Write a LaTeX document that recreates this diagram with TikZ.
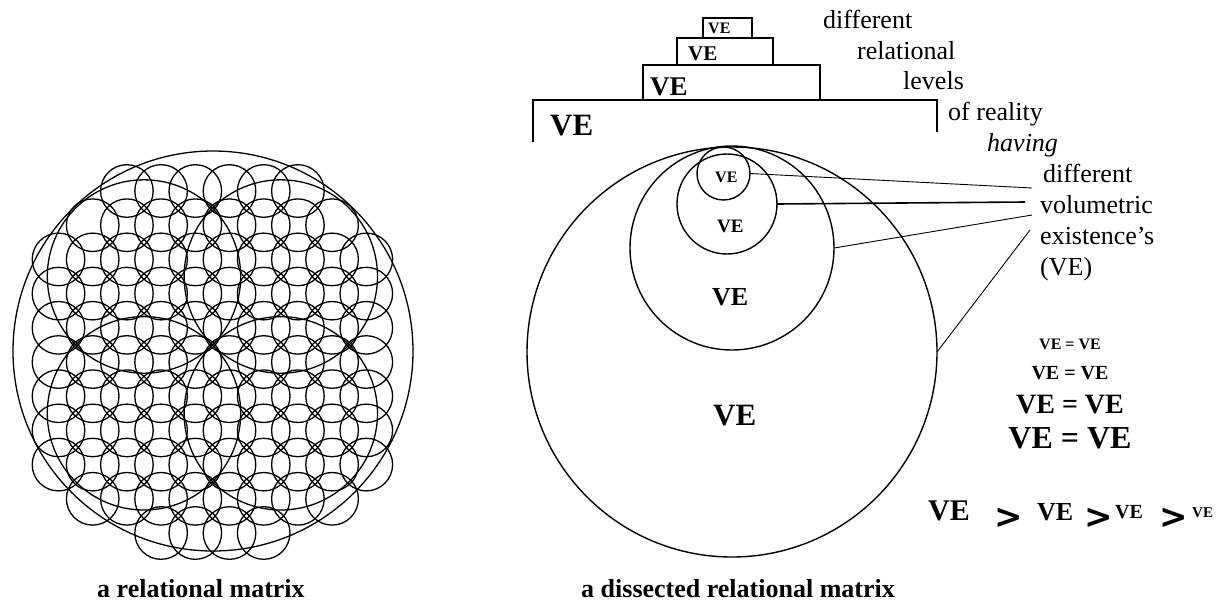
\documentclass[tikz,border=0pt]{standalone}
\usepackage{fontspec}
\setmainfont{Liberation Serif}
\newfontfamily\heavyfont{DejaVu Sans}
\usetikzlibrary{positioning, calc}
\newcommand{\vemark}[1]{{\fontsize{#1}{#1}\selectfont\bfseries VE}}
\newcommand{\vesame}[1]{{\fontsize{#1}{#1}\selectfont\bfseries VE = VE}}
\newcommand{\gtmark}{{\heavyfont\fontsize{34}{34}\selectfont\bfseries >}}

\begin{document}
\begin{tikzpicture}[x=1pt, y=-1pt,
    ring/.style={circle, draw, line width=1.4pt, inner sep=0pt, outer sep=0pt},
    cell/.style={draw, line width=1.3pt},
    level/.style={line width=1.6pt},
    pointer/.style={line width=0.9pt},
    word/.style={anchor=base west, inner sep=0pt, font=\fontsize{26}{26}\selectfont},
    tag/.style={anchor=base west, inner sep=0pt},
    caption/.style={anchor=base west, inner sep=0pt, font=\fontsize{26}{26}\selectfont\bfseries}
]
\useasboundingbox (0,0) rectangle (1217,603);

% Relational matrix
\draw[line width=1.3pt] (213,351) circle [radius=200pt];
\foreach \j/\a/\b in {0/2/7, 1/1/8, 2/0/9, 3/0/9, 4/0/9, 5/0/9, 6/0/9, 7/0/9, 8/0/9, 9/1/8, 10/3/6}
  \foreach \i in {\a,...,\b}
    \draw[cell] ({58.5+34.2*\i},{191+34.2*\j}) circle [radius=26.3pt];
\foreach \i/\j in {2.5/2.5, 6.5/2.5, 2.5/6.5, 6.5/6.5}
  \draw[cell] ({58.5+34.2*\i},{191+34.2*\j}) circle [radius=96.7pt];
\node[caption] (leftcap) at (97,597) {a relational matrix};

% Levels of reality
\draw[level] (533,142) -- (533,100) -- (937,100) -- (937,132);
\draw[level] (643,100) -- (643,65) -- (820,65) -- (820,100);
\draw[level] (677,65) -- (677,38) -- (773,38) -- (773,65);
\draw[level] (703,38) -- (703,18) -- (752,18) -- (752,38);
\node[tag] (lvA) at (550,135) {\vemark{31}};
\node[tag] (lvB) at (650,95) {\vemark{27}};
\node[tag] (lvC) at (688,60) {\vemark{21}};
\node[tag] (lvD) at (708,33) {\vemark{16}};

% Dissected matrix
\node[ring, minimum size=410pt] (veA) at (732,352) {};
\node[ring, minimum size=204pt] (veB) at (732,248) {};
\node[ring, minimum size=100pt] (veC) at (727,204) {};
\node[ring, minimum size=53pt] (veD) at (723.5,173.5) {};
\node[tag] (veDt) at (715,182) {\vemark{16}};
\node[tag] (veCt) at (717,232) {\vemark{19}};
\node[tag] (veBt) at (712,305) {\vemark{26}};
\node[tag] (veAt) at (713,425) {\vemark{31}};
\node[caption] (rightcap) at (581,597) {a dissected relational matrix};

% Labels
\node[word] (diffA) at (823,28) {different};
\node[word] (relat) at (857,59) {relational};
\node[word] (levels) at (903,89) {levels};
\node[word] (reality) at (948,120) {of reality};
\node[word, font=\fontsize{26}{26}\selectfont\itshape] (having) at (987,151) {having};
\node[word] (diffB) at (1043,182) {different};
\node[word] (volum) at (1040,213) {volumetric};
\node[word] (exist) at (1040,244) {existence's};
\node[word] (abbr) at (1040,275) {(VE)};

% Pointers
\coordinate (pD) at (1032,188);
\coordinate (pC) at (1025,202);
\coordinate (pB) at (1032,215);
\coordinate (pA) at (1030,230);
\draw[pointer] (veD.east) -- (pD);
\draw[pointer, line width=1.6pt] (veC.east) -- (pC);
\draw[pointer] (veB.east) -- (pB);
\draw[pointer] (veA.east) -- (pA);

% Equalities
\node[anchor=base, inner sep=0pt] (eqA) at (1070,349) {\vesame{16}};
\node[anchor=base, inner sep=0pt] (eqB) at (1070,379) {\vesame{20}};
\node[anchor=base, inner sep=0pt] (eqC) at (1070,413) {\vesame{28}};
\node[anchor=base, inner sep=0pt] (eqD) at (1070,448) {\vesame{32}};

% Order
\node[tag] (ordA) at (928,520) {\vemark{30}};
\node[inner sep=0pt] (gtA) at (1009,518.5) {\gtmark};
\node[tag] (ordB) at (1037,520) {\vemark{26}};
\node[inner sep=0pt] (gtB) at (1099,518.5) {\gtmark};
\node[tag] (ordC) at (1115,518) {\vemark{20}};
\node[inner sep=0pt] (gtC) at (1174,518.5) {\gtmark};
\node[tag] (ordD) at (1192,517) {\vemark{15}};
\end{tikzpicture}
\end{document}
